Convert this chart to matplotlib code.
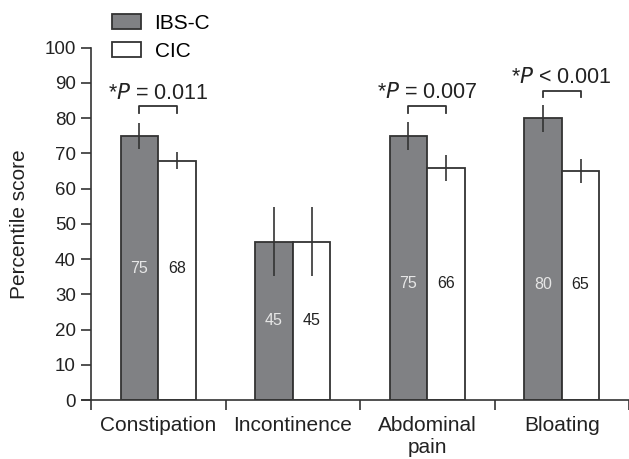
import numpy as np
import matplotlib.pyplot as plt

plt.rcParams['font.family'] = ['Liberation Sans', 'DejaVu Sans']

categories = ['Constipation', 'Incontinence', 'Abdominal\npain', 'Bloating']
ibs_c = [75, 45, 75, 80]
cic = [68, 45, 66, 65]
ibs_c_err = [3.7, 9.7, 4.0, 3.8]
cic_err = [2.5, 9.7, 3.7, 3.5]
p_labels = ['*$P$ = 0.011', None, '*$P$ = 0.007', '*$P$ < 0.001']
bracket_y = [83.4, None, 83.5, 87.8]
label_pos = [37.5, 22.5, 33, 32.7]

DPI = 100
fig = plt.figure(figsize=(629/DPI, 459/DPI), dpi=DPI)
ax = fig.add_axes([0.1447, 0.128, 0.8553, 0.768])

x = np.arange(len(categories))
w = 0.28
gray = '#808184'
edge = '#333333'

ax.bar(x - w/2, ibs_c, w, color=gray, edgecolor=edge, linewidth=1.3, label='IBS-C', zorder=2)
ax.bar(x + w/2, cic, w, color='white', edgecolor=edge, linewidth=1.3, label='CIC', zorder=2)
ax.errorbar(x - w/2, ibs_c, yerr=ibs_c_err, fmt='none', ecolor=edge, elinewidth=1.2, capsize=0, zorder=3)
ax.errorbar(x + w/2, cic, yerr=cic_err, fmt='none', ecolor=edge, elinewidth=1.2, capsize=0, zorder=3)

for i in range(len(categories)):
    ax.text(x[i] - w/2, label_pos[i], str(ibs_c[i]), ha='center', va='center',
            color='#e6e6e6', fontsize=11.5)
    ax.text(x[i] + w/2, label_pos[i], str(cic[i]), ha='center', va='center',
            color='#222222', fontsize=11.5)
    if p_labels[i]:
        by = bracket_y[i]
        ax.plot([x[i] - w/2, x[i] - w/2, x[i] + w/2, x[i] + w/2],
                [by - 1.9, by, by, by - 1.9], color=edge, lw=1.3, clip_on=False)
        ax.text(x[i], by + 2.1, p_labels[i], ha='center', va='baseline',
                fontsize=15.5, color='#222222')

ax.set_xlim(-0.5, 3.5)
ax.set_ylim(0, 100)
ax.set_yticks(np.arange(0, 101, 10))
ax.set_xticks(np.arange(-0.5, 3.6, 1.0))
ax.set_xticklabels([])
ax.set_xticks(x, minor=True)
ax.set_xticklabels(categories, minor=True, fontsize=15, color='#222222')
ax.tick_params(axis='x', which='minor', length=0, pad=11)
ax.tick_params(axis='x', which='major', length=7, width=1.2, color=edge)
ax.tick_params(axis='y', length=7, width=1.2, color=edge, labelsize=13.5,
               labelcolor='#222222', pad=4)
for s in ['top', 'right']:
    ax.spines[s].set_visible(False)
for s in ['left', 'bottom']:
    ax.spines[s].set_linewidth(1.2)
    ax.spines[s].set_color(edge)
ax.spines['bottom'].set_bounds(-0.565, 3.5)

ax.set_ylabel('Percentile score', fontsize=15, color='#222222', labelpad=11)

fig.legend(loc='upper left', bbox_to_anchor=(0.157, 1.0), frameon=False,
           fontsize=15, handlelength=1.37, handleheight=0.7, labelspacing=0.45,
           handletextpad=0.66, borderaxespad=0.25)

plt.savefig('out.png', dpi=DPI)
